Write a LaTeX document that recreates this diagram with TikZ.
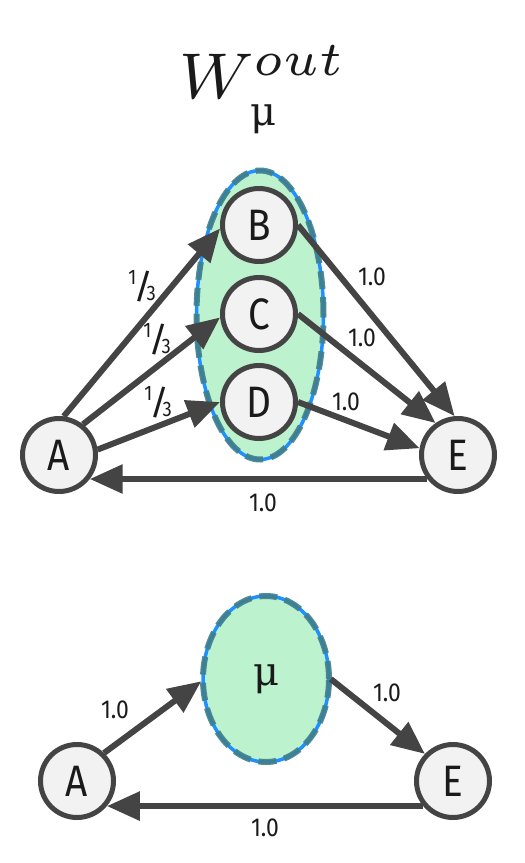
\documentclass[tikz,border=0pt]{standalone}
\usepackage{fontspec}
\setmainfont{Fira Sans}[FakeStretch=0.88]
\newfontfamily\serifmu{DejaVu Serif}
\usetikzlibrary{arrows.meta,shapes.geometric}
\definecolor{nodefill}{HTML}{F2F2F2}
\definecolor{edgecol}{HTML}{444444}
\definecolor{grpfill}{HTML}{BDF2CE}
\definecolor{grpblue}{HTML}{1E90FF}
\definecolor{grpdash}{HTML}{3F7F8C}
\definecolor{txt}{HTML}{1A1A1A}
\newcommand{\onethird}{{\fontsize{21}{21}\selectfont\raisebox{8pt}{1}\kern-3pt\raisebox{-6pt}{\fontsize{34}{34}\selectfont\scalebox{1.3}[1]{/}}\kern-7pt\raisebox{-8pt}{3}}}
\begin{document}
\begin{tikzpicture}[x=1pt,y=-1pt,
 vnode/.style={circle,draw=edgecol,fill=nodefill,line width=5pt,minimum size=73pt,inner sep=0pt,text=txt,font=\fontsize{44}{44}\selectfont},
 edge/.style={draw=edgecol,line width=6pt,-{Triangle[length=33pt,width=28pt]}},
 wlabel/.style={text=txt,font=\fontsize{26}{26}\selectfont,inner sep=0pt},
 grp/.style={ellipse,fill=grpfill,draw=grpblue,line width=3.5pt,inner sep=0pt,text=txt,
   postaction={draw=grpdash,line width=6pt,dash pattern=on 18pt off 8pt,draw opacity=0.9}},
 mutext/.style={font=\serifmu\fontsize{40}{40}\selectfont}
]
\useasboundingbox (0,0) rectangle (525,863);
% title
\node[anchor=base,inner sep=0pt,text=txt] (title) at (263,98) {\scalebox{8.1}{\footnotesize$W^{out}$}};
\node[anchor=base,inner sep=0pt,text=txt,mutext] (titlesub) at (263,125) {μ};
% upper graph
\node[grp,minimum width=127pt,minimum height=289pt] (g) at (260,315) {};
\node[vnode] (B) at (259,225) {B};
\node[vnode] (C) at (259,314) {C};
\node[vnode] (D) at (259,402) {D};
\node[vnode] (A) at (59,455) {A};
\node[vnode] (E) at (458,455) {E};
\draw[edge] (A.83) -- (B.185);
\draw[edge] (A.52) -- (C.185);
\draw[edge] (A.8) -- (D.180);
\draw[edge] (B.0) -- (E.95);
\draw[edge] (C.0) -- (E.125);
\draw[edge] (D.0) -- (E.170);
\draw[edge] (E.218) -- (A.-38);
\node[wlabel] (l1) at (142,286) {\onethird};
\node[wlabel] (l2) at (157,339) {\onethird};
\node[wlabel] (l3) at (158,402) {\onethird};
\node[wlabel] (l4) at (372,277) {1.0};
\node[wlabel] (l5) at (362,338) {1.0};
\node[wlabel] (l6) at (346,402) {1.0};
\node[wlabel] (l7) at (263,503) {1.0};
% lower graph
\node[grp,minimum width=126pt,minimum height=166pt,mutext] (mu) at (266,679) {μ};
\node[vnode] (A2) at (77,781) {A};
\node[vnode] (E2) at (453,781) {E};
\draw[edge] (A2.46) -- (mu.182);
\draw[edge] (mu.0) -- (E2.136);
\draw[edge] (E2.220) -- (A2.-40);
\node[wlabel] (l8) at (115,710) {1.0};
\node[wlabel] (l9) at (387,693) {1.0};
\node[wlabel] (l10) at (265,828) {1.0};
\end{tikzpicture}
\end{document}
